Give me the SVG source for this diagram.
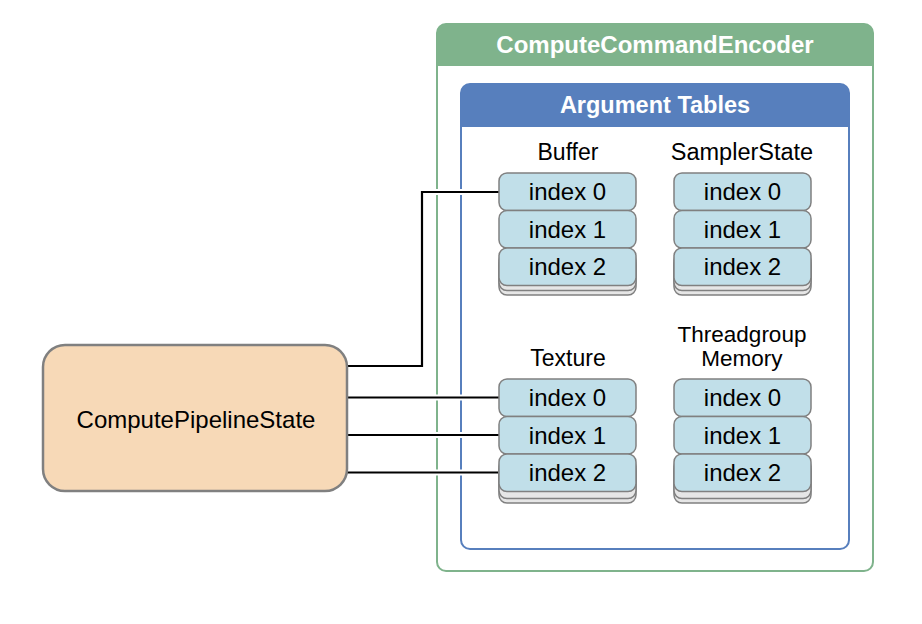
<svg xmlns="http://www.w3.org/2000/svg" width="922" height="624" viewBox="0 0 922 624">
<style>
.t{font-family:"Liberation Sans",Arial,Helvetica,sans-serif;fill:#000;text-anchor:middle}
.h{font-family:"Liberation Sans",Arial,Helvetica,sans-serif;fill:#fff;font-weight:bold;text-anchor:middle}
.cell{fill:#c1dfe9;stroke:#808080;stroke-width:1.5}
.sh{fill:#e6e6e6;stroke:#808080;stroke-width:1.5}
.halo{fill:none;stroke:#fff;stroke-width:6}
.wire{fill:none;stroke:#000;stroke-width:2.2}
</style>
<rect width="922" height="624" fill="#fff"/>
<g id="encoder">
<rect x="437" y="24" width="436" height="547" rx="9" fill="#fff" stroke="#7fb38c" stroke-width="2"/>
<path d="M437 66 V33 a9 9 0 0 1 9 -9 H864 a9 9 0 0 1 9 9 V66 Z" fill="#7fb38c"/>
<text class="h" x="655" y="53" font-size="24">ComputeCommandEncoder</text>
</g>
<g id="argument-tables">
<rect x="461" y="84" width="388" height="465" rx="9" fill="#fff" stroke="#577fbd" stroke-width="2"/>
<path d="M461 127 V93 a9 9 0 0 1 9 -9 H840 a9 9 0 0 1 9 9 V127 Z" fill="#577fbd"/>
<text class="h" x="655" y="113" font-size="23.5">Argument Tables</text>
</g>
<g id="connectors">
<path class="halo" d="M348 366 H422 V192 H499"/>
<path class="halo" d="M348 397.5 H499 M348 435 H499 M348 472.5 H499"/>
<path class="wire" d="M347 366 H422 V192 H499"/>
<path class="wire" d="M347 397.5 H499 M347 435 H499 M347 472.5 H499"/>
</g>
<g id="pipeline-state">
<rect x="43" y="345" width="304" height="146" rx="22" fill="#f7d9b7" stroke="#808080" stroke-width="2.5"/>
<text class="t" x="196" y="428" font-size="24">ComputePipelineState</text>
</g>
<g id="buffer">
<text class="t" x="568" y="160" font-size="23">Buffer</text>
<rect class="sh" x="499" y="257" width="137" height="38" rx="8"/>
<rect class="sh" x="499" y="252.5" width="137" height="38" rx="8"/>
<rect class="cell" x="499" y="173" width="137" height="37.5" rx="8"/>
<rect class="cell" x="499" y="210.5" width="137" height="37.5" rx="8"/>
<rect class="cell" x="499" y="248" width="137" height="37.5" rx="8"/>
<text class="t" x="567.5" y="200" font-size="24">index 0</text>
<text class="t" x="567.5" y="237.5" font-size="24">index 1</text>
<text class="t" x="567.5" y="275" font-size="24">index 2</text>
</g>
<g id="sampler-state">
<text class="t" x="742" y="160" font-size="23.5">SamplerState</text>
<rect class="sh" x="674" y="257" width="137" height="38" rx="8"/>
<rect class="sh" x="674" y="252.5" width="137" height="38" rx="8"/>
<rect class="cell" x="674" y="173" width="137" height="37.5" rx="8"/>
<rect class="cell" x="674" y="210.5" width="137" height="37.5" rx="8"/>
<rect class="cell" x="674" y="248" width="137" height="37.5" rx="8"/>
<text class="t" x="742.5" y="200" font-size="24">index 0</text>
<text class="t" x="742.5" y="237.5" font-size="24">index 1</text>
<text class="t" x="742.5" y="275" font-size="24">index 2</text>
</g>
<g id="texture">
<text class="t" x="568" y="366" font-size="23">Texture</text>
<rect class="sh" x="499" y="463" width="137" height="40" rx="8"/>
<rect class="sh" x="499" y="458.5" width="137" height="40" rx="8"/>
<rect class="cell" x="499" y="379" width="137" height="37.5" rx="8"/>
<rect class="cell" x="499" y="416.5" width="137" height="37.5" rx="8"/>
<rect class="cell" x="499" y="454" width="137" height="37.5" rx="8"/>
<text class="t" x="567.5" y="406" font-size="24">index 0</text>
<text class="t" x="567.5" y="443.5" font-size="24">index 1</text>
<text class="t" x="567.5" y="481" font-size="24">index 2</text>
</g>
<g id="threadgroup-memory">
<text class="t" x="742" y="342" font-size="22.5">Threadgroup</text>
<text class="t" x="742" y="366" font-size="22.5">Memory</text>
<rect class="sh" x="674" y="463" width="137" height="40" rx="8"/>
<rect class="sh" x="674" y="458.5" width="137" height="40" rx="8"/>
<rect class="cell" x="674" y="379" width="137" height="37.5" rx="8"/>
<rect class="cell" x="674" y="416.5" width="137" height="37.5" rx="8"/>
<rect class="cell" x="674" y="454" width="137" height="37.5" rx="8"/>
<text class="t" x="742.5" y="406" font-size="24">index 0</text>
<text class="t" x="742.5" y="443.5" font-size="24">index 1</text>
<text class="t" x="742.5" y="481" font-size="24">index 2</text>
</g>
</svg>
